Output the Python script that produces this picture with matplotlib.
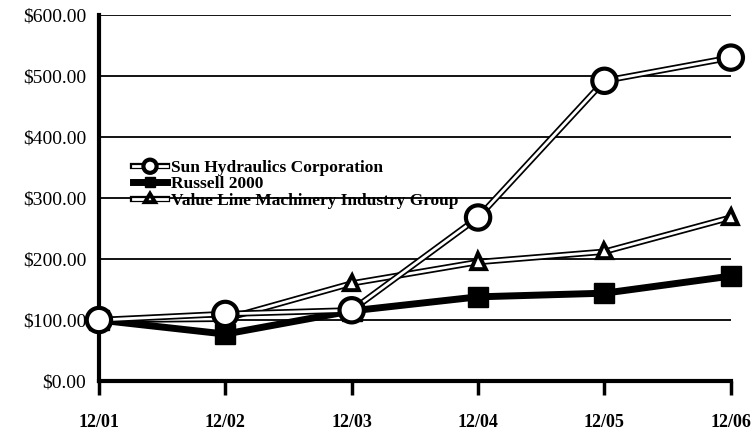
import matplotlib
matplotlib.use('Agg')
import matplotlib.pyplot as plt
import matplotlib.patheffects as pe
import numpy as np

years = ['12/01', '12/02', '12/03', '12/04', '12/05', '12/06']
sun = [100, 110, 116, 268, 492, 530]
russell = [100, 77, 115, 138, 144, 172]
valueline = [100, 102, 160, 195, 212, 268]

plt.rcParams['font.family'] = ['Liberation Serif', 'DejaVu Serif']

fig = plt.figure(figsize=(7.55, 4.38), dpi=100)
ax = fig.add_axes([0.131, 0.130, 0.837, 0.836])
x = np.arange(len(years))

for v in range(100, 700, 100):
    ax.axhline(v, color='black', lw=1.3, zorder=1)

outline = [pe.Stroke(linewidth=4.5, foreground='black'), pe.Normal()]

ax.plot(x, valueline, color='white', lw=2, marker='^', ms=8, mfc='white',
        mec='black', mew=1.2, path_effects=outline, zorder=3, clip_on=False,
        label='Value Line Machinery Industry Group')
ax.plot(x, russell, color='black', lw=5, marker='s', ms=14, mfc='black',
        mec='black', zorder=4, clip_on=False, label='Russell 2000')
ax.plot(x, sun, color='white', lw=2, marker='o', ms=16, mfc='white',
        mec='black', mew=1.5, path_effects=outline, zorder=5, clip_on=False,
        label='Sun Hydraulics Corporation')

ax.set_xlim(0, 5)
ax.set_ylim(0, 600)
ax.set_xticks(x)
ax.set_xticklabels(years, fontsize=13, fontweight='bold')
ax.set_yticks(range(0, 700, 100))
ax.set_yticklabels(['$%d.00' % v for v in range(0, 700, 100)], fontsize=14)
ax.tick_params(axis='x', direction='out', length=10, width=2.5, pad=14)
ax.tick_params(axis='y', length=0, pad=9)
for s in ['top', 'right']:
    ax.spines[s].set_visible(False)
ax.spines['left'].set_linewidth(3)
ax.spines['bottom'].set_linewidth(3)
ax.spines['bottom'].set_zorder(6)

h, l = ax.get_legend_handles_labels()
ax.legend(h[::-1], l[::-1], loc='upper left', bbox_to_anchor=(0.155, 0.67),
          bbox_transform=fig.transFigure, frameon=False,
          labelspacing=0.0, handlelength=2.0, handletextpad=0.2,
          markerscale=0.5, prop={'weight': 'bold', 'size': 12.5})

fig.savefig('out.png', dpi=100)
